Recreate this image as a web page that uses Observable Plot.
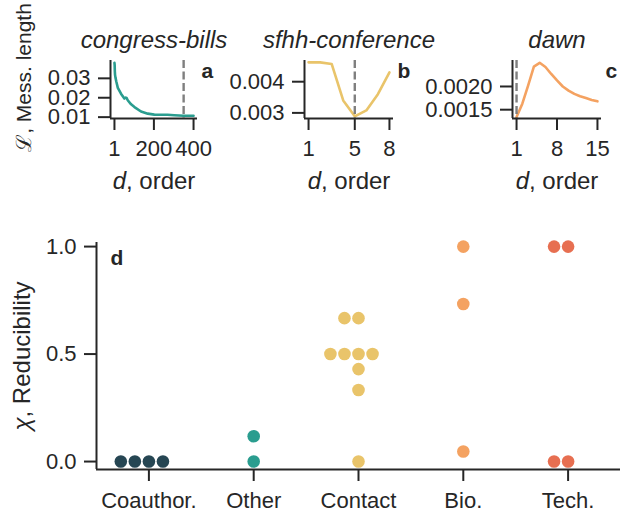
<!DOCTYPE html>
<html><head><meta charset="utf-8">
<script src="https://cdn.jsdelivr.net/npm/d3@7"></script>
<script src="https://cdn.jsdelivr.net/npm/@observablehq/plot@0.6"></script>
<style>
body{margin:0;background:#fff;}
#chart{position:relative;width:620px;height:512px;overflow:hidden;background:#fff;}
#chart svg{position:absolute;left:0;top:0;overflow:visible;max-width:none;}
</style></head><body><div id="chart"></div>
<script>
// ---- data ----
const panelTitles = ["congress-bills", "sfhh-conference", "dawn"];
const panelLetters = ["a", "b", "c", "d"];
const lineColors = ["#2a9d8f", "#e9c46a", "#f4a261"];

const billsOrder  = [1, 2, 3, 4, 6, 10, 18, 34, 51, 58, 62, 68, 85, 102, 135, 169, 202, 236, 269, 303, 350, 400];
const billsLength = [0.0380, 0.0370, 0.0335, 0.0318, 0.0305, 0.0285, 0.0251, 0.0221, 0.0196, 0.0201, 0.0199, 0.0187, 0.0166, 0.0152, 0.0129, 0.0118, 0.0113, 0.0112, 0.0112, 0.0110, 0.0107, 0.0107];
const sfhhOrder  = [1, 2, 3, 4, 5, 6, 7, 8];
const sfhhLength = [0.00462, 0.00462, 0.00457, 0.00340, 0.00289, 0.00308, 0.00360, 0.00430];
const dawnOrder  = [1, 2, 3, 4, 5, 6, 7, 8, 9, 10, 11, 12, 13, 14, 15];
const dawnLength = [0.00134, 0.00163, 0.00202, 0.00243, 0.00251, 0.00242, 0.00227, 0.00213, 0.00200, 0.00191, 0.00184, 0.00179, 0.00175, 0.00171, 0.00168];
const optimalOrder = [350, 5, 1];

const xTicksTop = [[1, 200, 400], [1, 5, 8], [1, 8, 15]];
const yTicksTop = [[0.01, 0.02, 0.03], [0.003, 0.004], [0.0015, 0.0020]];
const yFormatsTop = [".2f", ".3f", ".4f"];

const categories = ["Coauthor.", "Other", "Contact", "Bio.", "Tech."];
const catColors = ["#264653", "#2a9d8f", "#e9c46a", "#f4a261", "#e76f51"];
const coauthorChi = [0, 0, 0, 0];
const otherChi = [0, 0.118];
const contactChi = [0.667, 0.667, 0.5, 0.5, 0.5, 0.5, 0.43, 0.333, 0];
const bioChi = [1, 0.733, 0.047];
const techChi = [1, 1, 0, 0];
const chiTicks = [0, 0.5, 1];

const xLabelTop = "d, order";
const yLabelTop = "ℒ, Mess. length";
const yLabelBottom = "χ, Reducibility";

// ---- style ----
const ink = "#262626";
const font = "'Liberation Sans', Arial, sans-serif";
const W = 620, H = 512;
const tickFont = 22, labelFont = 24, titleFont = 24, letterFont = 21, topYLabelFont = 21;
const chart = document.getElementById("chart");

const axisCommon = {tickSize: 12, strokeWidth: 2, fontSize: tickFont, color: ink, label: null};

function topPanel(i, order, values, frame) {
  const data = order.map((d, k) => ({order: d, length: values[k]}));
  const xs = frame.xDomain, ys = frame.yDomain;
  const marks = [
    Plot.line(data, {x: "order", y: "length", stroke: lineColors[i], strokeWidth: 2.6, strokeLinejoin: "round", strokeLinecap: "round"}),
    Plot.ruleX([optimalOrder[i]], {stroke: "#7f7f7f", strokeWidth: 2.4, strokeDasharray: "8,3.5"}),
    Plot.ruleY([ys[0]], {stroke: ink, strokeWidth: 2}),
    Plot.ruleX([xs[0]], {stroke: ink, strokeWidth: 2}),
    Plot.axisX({...axisCommon, ticks: xTicksTop[i], tickPadding: 10, tickFormat: d => String(d)}),
    Plot.axisY({...axisCommon, ticks: yTicksTop[i], tickPadding: 8, tickFormat: d3.format(yFormatsTop[i])}),
    Plot.text([panelTitles[i]], {frameAnchor: "top", lineAnchor: "bottom", dy: -13, fontSize: titleFont, fontStyle: "italic", fill: ink}),
    Plot.text([panelLetters[i]], {frameAnchor: "top-right", textAnchor: "start", lineAnchor: "top", dx: 4, dy: 3, fontSize: letterFont, fontWeight: "bold", fill: ink}),
    Plot.text([xLabelTop], {frameAnchor: "bottom", lineAnchor: "bottom", dy: 70, fontSize: labelFont, fill: ink})
  ];
  if (i === 0) {
    marks.push(Plot.text([yLabelTop], {frameAnchor: "left", textAnchor: "middle", lineAnchor: "bottom", rotate: -90, dx: 30 - frame.left, dy: -12, fontSize: topYLabelFont, fill: ink}));
  }
  return Plot.plot({
    width: W, height: H,
    marginLeft: frame.left, marginRight: W - frame.right,
    marginTop: 60, marginBottom: H - 118,
    x: {domain: xs},
    y: {domain: ys},
    style: {fontFamily: font, color: ink, background: "transparent", overflow: "visible"},
    marks
  });
}

const frames = [
  {left: 110, right: 197, xDomain: [-18.95, 419.95], yDomain: [0.0093, 0.0392]},
  {left: 304, right: 393, xDomain: [0.65, 8.35], yDomain: [0.00282, 0.00468]},
  {left: 512, right: 601, xDomain: [0.3, 15.7], yDomain: [0.00131, 0.00256]}
];
const series = [[billsOrder, billsLength], [sfhhOrder, sfhhLength], [dawnOrder, dawnLength]];
series.forEach(([o, v], i) => chart.appendChild(topPanel(i, o, v, frames[i])));

// ---- bottom swarm panel ----
const groups = [coauthorChi, otherChi, contactChi, bioChi, techChi];
const swarmSlots = [0, -1, 1, -2, 2, -3, 3];
const swarmStep = 0.134;
const dots = [];
groups.forEach((vals, ci) => {
  const seen = new Map();
  vals.forEach(v => {
    const k = seen.get(v) || 0;
    seen.set(v, k + 1);
    dots.push({category: categories[ci], ci, value: v, slot: swarmSlots[k]});
  });
});
const bx = [-0.5, 4.5], by = [-0.037, 1.019];
const bottom = Plot.plot({
  width: W, height: H,
  marginLeft: 96, marginRight: 0, marginTop: 242, marginBottom: 43,
  x: {domain: bx},
  y: {domain: by},
  color: {domain: categories, range: catColors},
  style: {fontFamily: font, color: ink, background: "transparent", overflow: "visible"},
  marks: [
    Plot.ruleY([by[0]], {stroke: ink, strokeWidth: 2}),
    Plot.ruleX([bx[0]], {stroke: ink, strokeWidth: 2}),
    Plot.dot(dots, {x: d => d.ci + d.slot * swarmStep, y: "value", fill: "category", r: 6.3}),
    Plot.axisX({...axisCommon, ticks: categories.map((c, i) => i), tickPadding: 11, tickFormat: i => categories[i]}),
    Plot.axisY({...axisCommon, ticks: chiTicks, tickPadding: 8, tickFormat: d3.format(".1f")}),
    Plot.text([panelLetters[3]], {frameAnchor: "top-left", textAnchor: "start", lineAnchor: "top", dx: 14, dy: 8, fontSize: letterFont, fontWeight: "bold", fill: ink}),
    Plot.text([yLabelBottom], {frameAnchor: "left", textAnchor: "middle", lineAnchor: "bottom", rotate: -90, dx: 29 - 96, dy: 0, fontSize: labelFont, fill: ink})
  ]
});
chart.appendChild(bottom);

// italic math symbols in the axis labels
const italicLead = {[xLabelTop]: "d", [yLabelBottom]: "χ"};
d3.select(chart).selectAll("text").filter(function () { return italicLead[this.textContent] !== undefined; })
  .each(function () {
    const full = this.textContent, lead = italicLead[full];
    const el = d3.select(this);
    el.text(null);
    el.append("tspan").attr("font-style", "italic").text(lead);
    el.append("tspan").text(full.slice(lead.length));
  });
</script>
</body></html>
